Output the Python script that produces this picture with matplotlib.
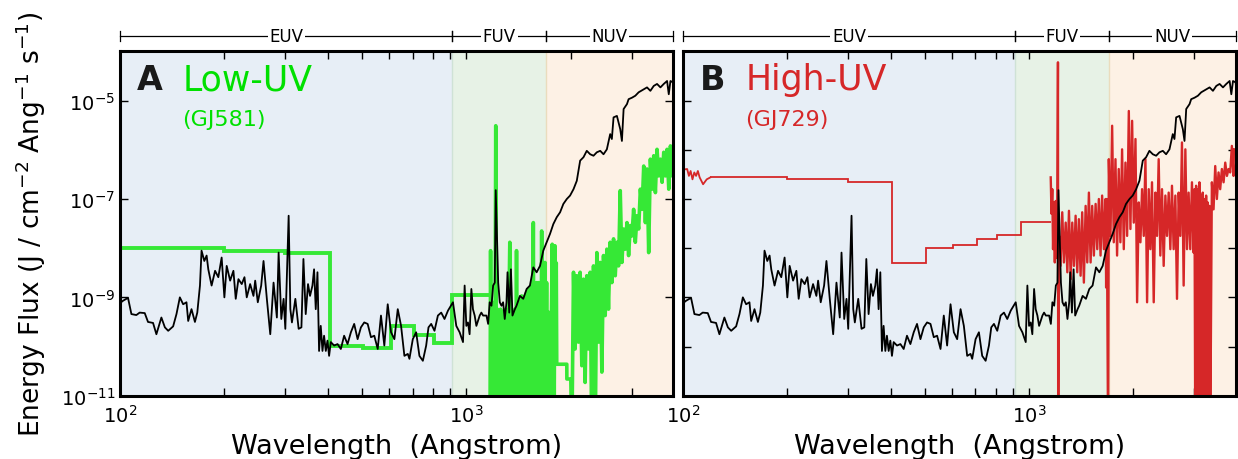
import numpy as np
import matplotlib
matplotlib.use("Agg")
import matplotlib.pyplot as plt
from matplotlib import ticker
from matplotlib.transforms import blended_transform_factory

# ---------------- data (wavelength in Angstrom, log10 of energy flux) ----------------
black_wl = [100, 102, 105.5, 107.9, 111.5, 114.0, 117.9, 120.5, 124.6, 127.4, 131.7, 134.8, 137.8,
            142.4, 145.6, 148.9, 152.2, 155.6, 157.4, 160.9, 164.6, 167.2, 170.2, 172.0, 175.2,
            177.9, 179.9, 183.9, 188.2, 192.3, 196.6, 200.2, 203.3, 208.0, 212.6, 215.9, 219.8,
            224.7, 228.8, 232.3, 237.6, 242.9, 245.7, 250.0, 255.7, 259.7, 265.5, 271.6, 277.6,
            283.8, 287.1, 292.3, 296.8, 300.2, 306.9, 310.4, 313.7, 320.9, 328.0, 334.1, 338.6,
            343.8, 349.1, 353.8, 359.5, 363.4, 367.5, 371.7, 375.7, 379.9, 384.3, 388.4, 392.9,
            397.3, 401.6, 406.2, 415.3, 424.8, 434.2, 443.8, 454.0, 464.2, 474.5, 485.4, 496.2,
            507.3, 519.0, 530.5, 542.3, 554.8, 567.0, 579.7, 593.0, 606.2, 619.8, 633.9, 648.0,
            662.5, 677.6, 685.0, 700.6, 716.3, 732.1, 749.0, 765.7, 777.6, 791.7, 809.2, 827.8,
            846.2, 865.0, 885.1, 915, 935.4, 956.4, 978.1, 988.8, 1000, 1011, 1022, 1034, 1045,
            1057, 1069, 1093, 1105, 1118, 1143, 1156, 1168, 1182, 1195, 1208, 1216, 1236, 1249,
            1263, 1277, 1291, 1306, 1315, 1330, 1345, 1359, 1381, 1396, 1428, 1460, 1493, 1526,
            1561, 1596, 1632, 1668, 1706, 1744, 1783, 1824, 1865, 1906, 1950, 1993, 2039, 2084,
            2131, 2179, 2227, 2278, 2329, 2381, 2435, 2489, 2545, 2602, 2631, 2661, 2721, 2782,
            2813, 2845, 2909, 2941, 3007, 3075, 3144, 3252, 3324, 3399, 3476, 3553, 3634, 3715,
            3798, 3841, 3884, 3954, 3990]
black_logf = [-9.12, -9.07, -9.01, -9.34, -9.36, -9.31, -9.32, -9.50, -9.52, -9.75, -9.41, -9.61, -9.68,
              -9.59, -9.34, -9.00, -9.14, -9.10, -9.48, -9.24, -9.50, -9.31, -8.76, -8.05, -8.26,
              -8.15, -8.43, -8.76, -8.46, -8.59, -8.19, -9.00, -8.36, -8.66, -8.46, -9.03, -8.63,
              -8.73, -8.59, -9.00, -8.73, -8.97, -8.66, -9.10, -8.76, -8.26, -9.03, -9.75, -8.70,
              -9.41, -8.09, -9.44, -9.03, -9.64, -7.34, -9.24, -9.51, -9.03, -9.64, -9.61, -8.22,
              -9.34, -8.73, -8.97, -8.76, -8.43, -9.24, -8.49, -10.09, -9.58, -10.09, -9.78, -10.09,
              -9.88, -10.19, -9.91, -9.98, -9.95, -10.05, -9.78, -9.95, -9.71, -9.54, -9.85, -9.61,
              -9.51, -9.54, -9.81, -9.78, -10.05, -9.37, -9.98, -9.14, -9.71, -9.85, -9.24, -9.58,
              -10.19, -10.15, -10.25, -9.85, -9.71, -10.19, -10.29, -9.98, -9.61, -9.54, -9.68, -9.37,
              -9.31, -9.44, -9.27, -9.10, -9.58, -9.71, -9.91, -8.76, -9.58, -9.51, -9.75, -8.83, -9.24,
              -9.37, -9.58, -9.37, -9.31, -9.37, -9.37, -9.54, -9.10, -9.17, -8.76, -8.70, -6.82, -8.70, -9.10,
              -9.17, -9.10, -9.44, -9.10, -8.49, -9.31, -8.43, -9.37, -9.24, -9.17, -8.97, -9.03, -8.83, -8.76,
              -8.39, -8.49, -8.36, -8.05, -7.88, -7.71, -7.51, -7.37, -7.27, -7.10, -7.00, -6.93, -6.80, -6.63,
              -6.22, -6.15, -6.02, -6.09, -6.12, -6.05, -6.02, -6.09, -5.99, -5.68, -5.78, -5.34, -5.31, -5.58,
              -5.82, -5.17, -5.07, -4.97, -4.94, -4.90, -4.83, -4.77, -4.73, -4.80, -4.70, -4.66, -4.73, -4.66,
              -4.60, -4.87, -4.60, -4.63, -4.97]

# GJ581 (Low-UV): binned EUV steps then measured FUV/NUV spectrum
green_edges = [100, 200, 300, 404, 502, 606, 708, 806, 912, 1170]
green_step_logf = [-8.00, -8.05, -8.09, -9.98, -10.03, -9.58, -9.77, -9.93, -8.95]
green_wl = [1170, 1175, 1182, 1189, 1195, 1202, 1208, 1216, 1222, 1229, 1236, 1242, 1249, 1256, 1263,
            1270, 1277, 1284, 1291, 1298, 1306, 1313, 1320, 1327, 1335, 1342, 1350, 1358, 1366, 1373,
            1381, 1388, 1396, 1404, 1412, 1420, 1428, 1436, 1444, 1452, 1460, 1468, 1476, 1484, 1493,
            1501, 1509, 1517, 1526, 1534, 1543, 1552, 1561, 1569, 1578, 1587, 1596, 1605, 1614, 1623,
            1632, 1641, 1650, 1659, 1668, 1677, 1687, 1696, 1705, 1712, 1725, 1735, 1744, 1770, 1778,
            1786, 1794, 1802, 1810, 1818, 1824, 1950, 1951, 2003, 2016, 2039, 2061, 2084, 2107, 2131,
            2155, 2179, 2203, 2227, 2253, 2278, 2303, 2329, 2355, 2381, 2408, 2435, 2462, 2489, 2517,
            2545, 2573, 2602, 2631, 2661, 2691, 2721, 2751, 2782, 2813, 2845, 2877, 2909, 2941, 2974,
            3007, 3041, 3075, 3110, 3144, 3180, 3216, 3252, 3288, 3324, 3361, 3399, 3437, 3476, 3514,
            3553, 3593, 3634, 3674, 3715, 3756, 3798, 3841, 3884, 3927, 3971, 4015]
green_logf = [-12, -8.05, -12, -9.10, -12, -9.24, -12, -5.51, -12, -9.24, -12, -9.37, -12, -9.24, -12,
              -9.30, -12, -9.37, -12, -9.24, -12, -9.30, -12, -9.24, -7.88, -12, -9.24, -12, -9.30, -12,
              -9.24, -12, -8.05, -12, -9.10, -12, -9.03, -12, -8.97, -12, -9.10, -12, -8.97, -12, -8.90,
              -12, -8.83, -12, -8.83, -12, -8.77, -12, -7.48, -12, -8.77, -12, -8.70, -12, -8.70, -12,
              -8.83, -12, -7.65, -12, -8.49, -12, -8.29, -12, -8.70, -12, -9.30, -12, -12, -7.92, -11,
              -8.00, -11, -7.95, -10.0, -8.30, -10.36, -10.36, -10.66, -10.66, -12, -8.49, -10.05, -8.56, -9.91, -8.49,
              -10.39, -8.63, -10.73, -8.56, -10.05, -8.49, -12, -8.36, -12, -8.09, -9.91, -8.29, -10.52, -8.15, -9.37,
              -8.02, -9.24, -7.88, -8.70, -7.81, -8.56, -7.88, -8.36, -6.83, -8.29, -7.61, -8.02, -7.48, -8.15, -7.54,
              -7.75, -7.21, -7.88, -7.34, -7.61, -6.80, -7.21, -6.33, -7.48, -6.39, -8.09, -6.19, -6.80, -6.12, -6.87,
              -5.99, -6.53, -6.19, -6.66, -6.05, -6.53, -5.99, -6.80, -5.92, -6.53, -5.92, -6.33]

# GJ729 (High-UV): EUV start, binned EUV steps, measured FUV/NUV spectrum
red_start_wl = [100.5, 102.8, 104.0, 105.2, 106.5, 107.8, 109.1, 110.4, 111.7, 114.3, 117.1, 120.0]
red_start_logf = [-6.40, -6.39, -6.53, -6.43, -6.60, -6.46, -6.53, -6.43, -6.56, -6.70, -6.60, -6.56]
red_edges = [120, 200, 300, 403, 503, 603, 706, 808, 945, 1155]
red_step_logf = [-6.55, -6.60, -6.66, -8.30, -8.00, -7.93, -7.82, -7.73, -7.46]
red_wl = [1155, 1161, 1167, 1173, 1180, 1187, 1194, 1200, 1207, 1212, 1214, 1220, 1233, 1247, 1261,
          1276, 1290, 1304, 1319, 1333, 1348, 1363, 1378, 1393, 1409, 1424, 1440, 1457, 1473, 1489,
          1506, 1522, 1539, 1557, 1574, 1591, 1609, 1626, 1645, 1663, 1670, 1677, 1692, 1700, 1719,
          1738, 1757, 1777, 1796, 1816, 1836, 1857, 1878, 1899, 1920, 1942, 1963, 1985, 2007, 2030,
          2052, 2075, 2098, 2121, 2145, 2169, 2193, 2217, 2241, 2266, 2292, 2318, 2343, 2369, 2395,
          2422, 2449, 2477, 2504, 2532, 2560, 2588, 2617, 2647, 2676, 2706, 2736, 2766, 2797, 2829,
          2860, 2891, 2923, 2956, 2989, 3006, 3022, 3039, 3055, 3072, 3089, 3106, 3123, 3140, 3158,
          3176, 3194, 3212, 3230, 3248, 3265, 3283, 3301, 3320, 3338, 3375, 3413, 3451, 3489, 3528,
          3567, 3607, 3648, 3689, 3730, 3771, 3813, 3855, 3898, 3907]
red_logf = [-6.56, -7.30, -6.80, -8.02, -7.07, -8.29, -7.04, -8.20, -7.30, -4.22, -12, -7.75, -8.36, -7.27, -8.29,
            -7.48, -8.49, -7.24, -8.63, -7.48, -8.36, -7.34, -8.49, -7.41, -8.56, -7.27, -8.70, -7.14, -8.29, -6.87,
            -8.29, -7.14, -8.15, -7.10, -8.02, -7.00, -8.15, -6.93, -8.02, -7.00, -8.80, -7.00, -12, -6.19, -7.75,
            -5.51, -7.88, -6.19, -8.15, -6.39, -7.88, -5.99, -8.02, -6.26, -7.75, -5.21, -7.61, -5.41, -7.48, -5.78,
            -9.10, -7.07, -7.88, -6.80, -7.75, -6.19, -9.10, -6.80, -8.02, -6.66, -9.10, -6.87, -7.75, -6.19, -8.15,
            -6.80, -8.36, -6.93, -7.75, -6.87, -8.02, -6.73, -8.02, -6.93, -9.03, -6.87, -7.75, -5.85, -8.76, -5.99,
            -8.02, -6.87, -8.02, -6.66, -8.09, -6.80, -12, -6.73, -12, -6.80, -12, -6.66, -12, -6.93, -12,
            -6.87, -12, -7.00, -12, -6.93, -12, -7.07, -12, -7.14, -12, -6.66, -7.21, -6.33, -7.00, -6.46,
            -6.80, -6.39, -6.66, -6.26, -6.53, -6.39, -6.46, -5.92, -6.53, -5.99]

region_edges = [100, 912, 1700, 3950]
region_names = ["EUV", "FUV", "NUV"]
region_colors = ["#e7eef6", "#e7f2e6", "#fdf1e5"]

panel_letters = ["A", "B"]
panel_titles = ["Low-UV", "High-UV"]
panel_stars = ["(GJ581)", "(GJ729)"]
GREEN_TXT = "#00e000"
GREEN_LINE = "#36e836"
RED = "#d62728"

XMIN, XMAX = 100, 3950
YMIN, YMAX = 1e-11, 1e-4

fig = plt.figure(figsize=(12.38, 4.6), dpi=100)
axA = fig.add_axes([0.0969, 0.1376, 0.4467, 0.7483])
axB = fig.add_axes([0.5517, 0.1376, 0.4463, 0.7483])


def tf(v):
    return 10.0 ** np.asarray(v, dtype=float)


def decorate(ax, idx, color):
    for (a, b), c in zip(zip(region_edges[:-1], region_edges[1:]), region_colors):
        ax.axvspan(a, b, color=c, lw=0, zorder=0)
    ax.axvline(912, color="#cfe2d6", lw=1, zorder=0.5)
    ax.axvline(1700, color="#eadcbd", lw=1, zorder=0.5)
    ax.set_xscale("log")
    ax.set_yscale("log")
    ax.set_xlim(XMIN, XMAX)
    ax.set_ylim(YMIN, YMAX)
    for s in ax.spines.values():
        s.set_linewidth(2.2)
    ax.tick_params(which="both", direction="in", top=True, right=True, labelsize=14,
                   width=1.0, length=6)
    ax.tick_params(axis="x", which="both", pad=6)
    ax.xaxis.set_minor_formatter(ticker.NullFormatter())
    ax.yaxis.set_minor_locator(ticker.NullLocator())
    ax.set_xlabel("Wavelength  (Angstrom)", fontsize=19.5, labelpad=5)
    # region brackets above the axes
    trans = blended_transform_factory(ax.transData, ax.transAxes)
    for a, b, name in zip(region_edges[:-1], region_edges[1:], region_names):
        ax.plot([a, b], [1.045, 1.045], color="black", lw=0.9, transform=trans, clip_on=False)
        ax.plot([a, a], [1.030, 1.060], color="black", lw=0.9, transform=trans, clip_on=False)
        ax.plot([b, b], [1.030, 1.060], color="black", lw=0.9, transform=trans, clip_on=False)
        ax.text(np.sqrt(a * b), 1.045, name, transform=trans, ha="center", va="center",
                fontsize=12, bbox=dict(boxstyle="square,pad=0.1", fc="white", ec="none"))
    ax.text(0.031, 0.89, panel_letters[idx], transform=ax.transAxes, fontsize=24,
            fontweight="bold", color="#1a1a1a", ha="left", va="baseline")
    ax.text(0.113, 0.89, panel_titles[idx], transform=ax.transAxes, fontsize=25,
            color=color, ha="left", va="baseline")
    ax.text(0.113, 0.785, panel_stars[idx], transform=ax.transAxes, fontsize=16,
            color=color, ha="left", va="baseline")


decorate(axA, 0, GREEN_TXT)
decorate(axB, 1, RED)

# Panel A
axA.stairs(tf(green_step_logf), green_edges, baseline=None, color=GREEN_LINE, lw=2.8, zorder=2)
axA.plot(green_wl, tf(green_logf), color=GREEN_LINE, lw=2.6, zorder=2)
axA.plot(black_wl, tf(black_logf), color="black", lw=1.3, zorder=3)
axA.set_yticks([1e-11, 1e-9, 1e-7, 1e-5])
axA.set_ylabel("Energy Flux (J / cm$^{-2}$ Ang$^{-1}$ s$^{-1}$)", fontsize=19, labelpad=9)

# Panel B
axB.plot(red_start_wl, tf(red_start_logf), color=RED, lw=1.3, zorder=2)
axB.stairs(tf(red_step_logf), red_edges, baseline=None, color=RED, lw=1.3, zorder=2)
axB.plot(red_wl, tf(red_logf), color=RED, lw=1.7, zorder=2)
axB.plot(black_wl, tf(black_logf), color="black", lw=1.3, zorder=3)
axB.set_yticks([1e-11, 1e-10, 1e-9, 1e-8, 1e-7, 1e-6, 1e-5, 1e-4])
axB.yaxis.set_major_formatter(ticker.NullFormatter())
axB.set_ylim(YMIN, YMAX)

fig.savefig("out.png", dpi=100)
